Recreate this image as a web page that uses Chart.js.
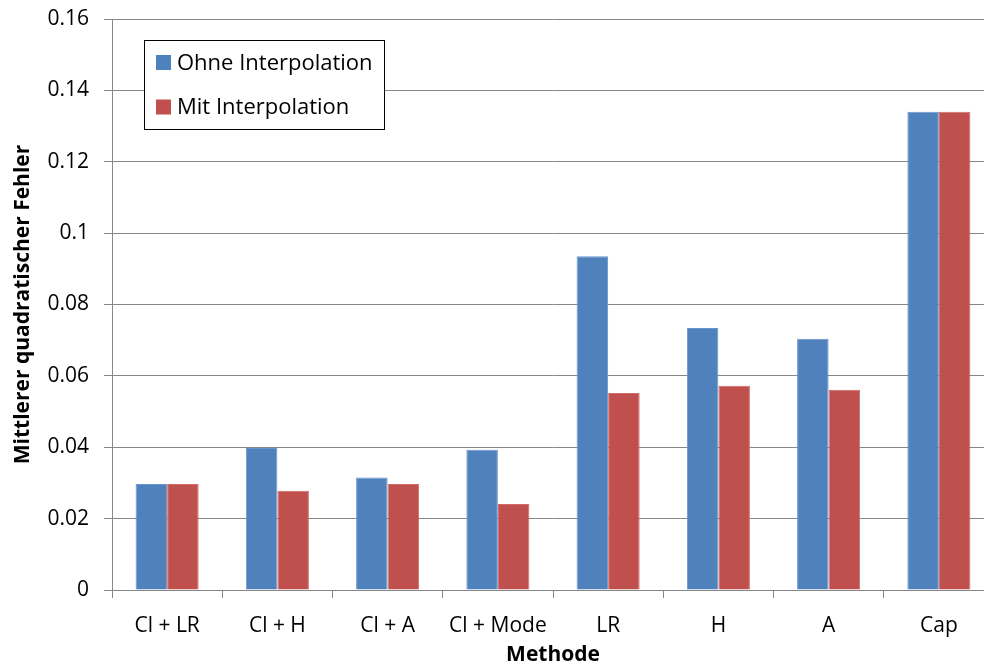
<!DOCTYPE html>
<html>
<head>
<meta charset="utf-8">
<script src="https://cdn.jsdelivr.net/npm/chart.js@4.4.1/dist/chart.umd.min.js"></script>
<style>
  html, body { margin: 0; padding: 0; background: #fff; overflow: hidden; }
  #wrap { width: 994px; height: 668px; }
</style>
</head>
<body>
<div id="wrap"><canvas id="chartCanvas"></canvas></div>
<script>
// Werte
const methoden = ["Cl + LR", "Cl + H", "Cl + A", "Cl + Mode", "LR", "H", "A", "Cap"];
const ohneInterpolation = [0.0297, 0.0398, 0.0315, 0.0393, 0.0935, 0.0734, 0.0704, 0.134];
const mitInterpolation = [0.0297, 0.0278, 0.0297, 0.0241, 0.0552, 0.0572, 0.0561, 0.134];
const yTicks = [0, 0.02, 0.04, 0.06, 0.08, 0.1, 0.12, 0.14, 0.16];

const FONT = "'Open Sans', Lato, sans-serif";
const GRID = "#878787";

// Legende innerhalb der Zeichenfläche, mit Rahmen
const boxLegend = {
    id: "boxLegend",
    afterDraw(chart) {
        let ctx = chart.ctx;
        let area = chart.chartArea;
        let x = area.left + 32;
        let y = area.top + 21;
        let w = 240, h = 89;

        ctx.save();
        ctx.fillStyle = "#fff";
        ctx.fillRect(x, y, w, h);
        ctx.strokeStyle = "#000";
        ctx.lineWidth = 1;
        ctx.strokeRect(x + 0.5, y + 0.5, w, h);

        ctx.font = "22px " + FONT;
        ctx.textBaseline = "middle";
        chart.data.datasets.forEach((ds, i) => {
            let cy = y + 22.5 + i * 44.5;
            ctx.fillStyle = ds.backgroundColor;
            ctx.fillRect(x + 12, cy - 7.5, 15, 15);
            ctx.fillStyle = "#000";
            ctx.fillText(ds.label, x + 33, cy + 1);
        });
        ctx.restore();
    }
};

new Chart(document.getElementById("chartCanvas"), {
    type: "bar",
    data: {
        labels: methoden,
        datasets: [{
            label: "Ohne Interpolation",
            data: ohneInterpolation,
            backgroundColor: "#4F81BD",
            borderColor: "#6A95CC",
            borderWidth: 1
        }, {
            label: "Mit Interpolation",
            data: mitInterpolation,
            backgroundColor: "#C0504D",
            borderColor: "#D06A67",
            borderWidth: 1
        }]
    },
    options: {
        responsive: true,
        maintainAspectRatio: false,
        animation: false,
        layout: { padding: { top: 19, right: 0, left: 0, bottom: 0 } },
        plugins: {
            legend: { display: false },
            tooltip: { enabled: false }
        },
        datasets: {
            bar: { categoryPercentage: 0.572, barPercentage: 1.0 }
        },
        scales: {
            x: {
                grid: { drawOnChartArea: false, drawTicks: true, tickLength: 8, color: GRID, offset: true },
                border: { color: GRID },
                ticks: { color: "#000", font: { family: FONT, size: 21 }, padding: 15, maxRotation: 0 },
                title: {
                    display: true,
                    text: "Methode",
                    color: "#000",
                    font: { family: FONT, size: 21, weight: "bold" },
                    padding: { top: 0, bottom: 0 }
                },
                afterFit(scale) { scale.height = 78; }
            },
            y: {
                min: 0,
                max: 0.16,
                afterBuildTicks(scale) { scale.ticks = yTicks.map(v => ({ value: v })); },
                grid: { color: GRID, tickLength: 8, drawTicks: true },
                border: { color: GRID },
                ticks: {
                    color: "#000",
                    font: { family: FONT, size: 21 },
                    padding: 15,
                    callback: v => String(Number(v.toFixed(2)))
                },
                title: {
                    display: true,
                    text: "Mittlerer quadratischer Fehler",
                    color: "#000",
                    font: { family: FONT, size: 21, weight: "bold" },
                    padding: { top: 10, bottom: 0 }
                },
                afterFit(scale) {
                    scale.width = 112;
                    scale.paddingTop = 0;
                    scale.paddingBottom = 0;
                }
            }
        }
    },
    plugins: [boxLegend]
});
</script>
</body>
</html>
